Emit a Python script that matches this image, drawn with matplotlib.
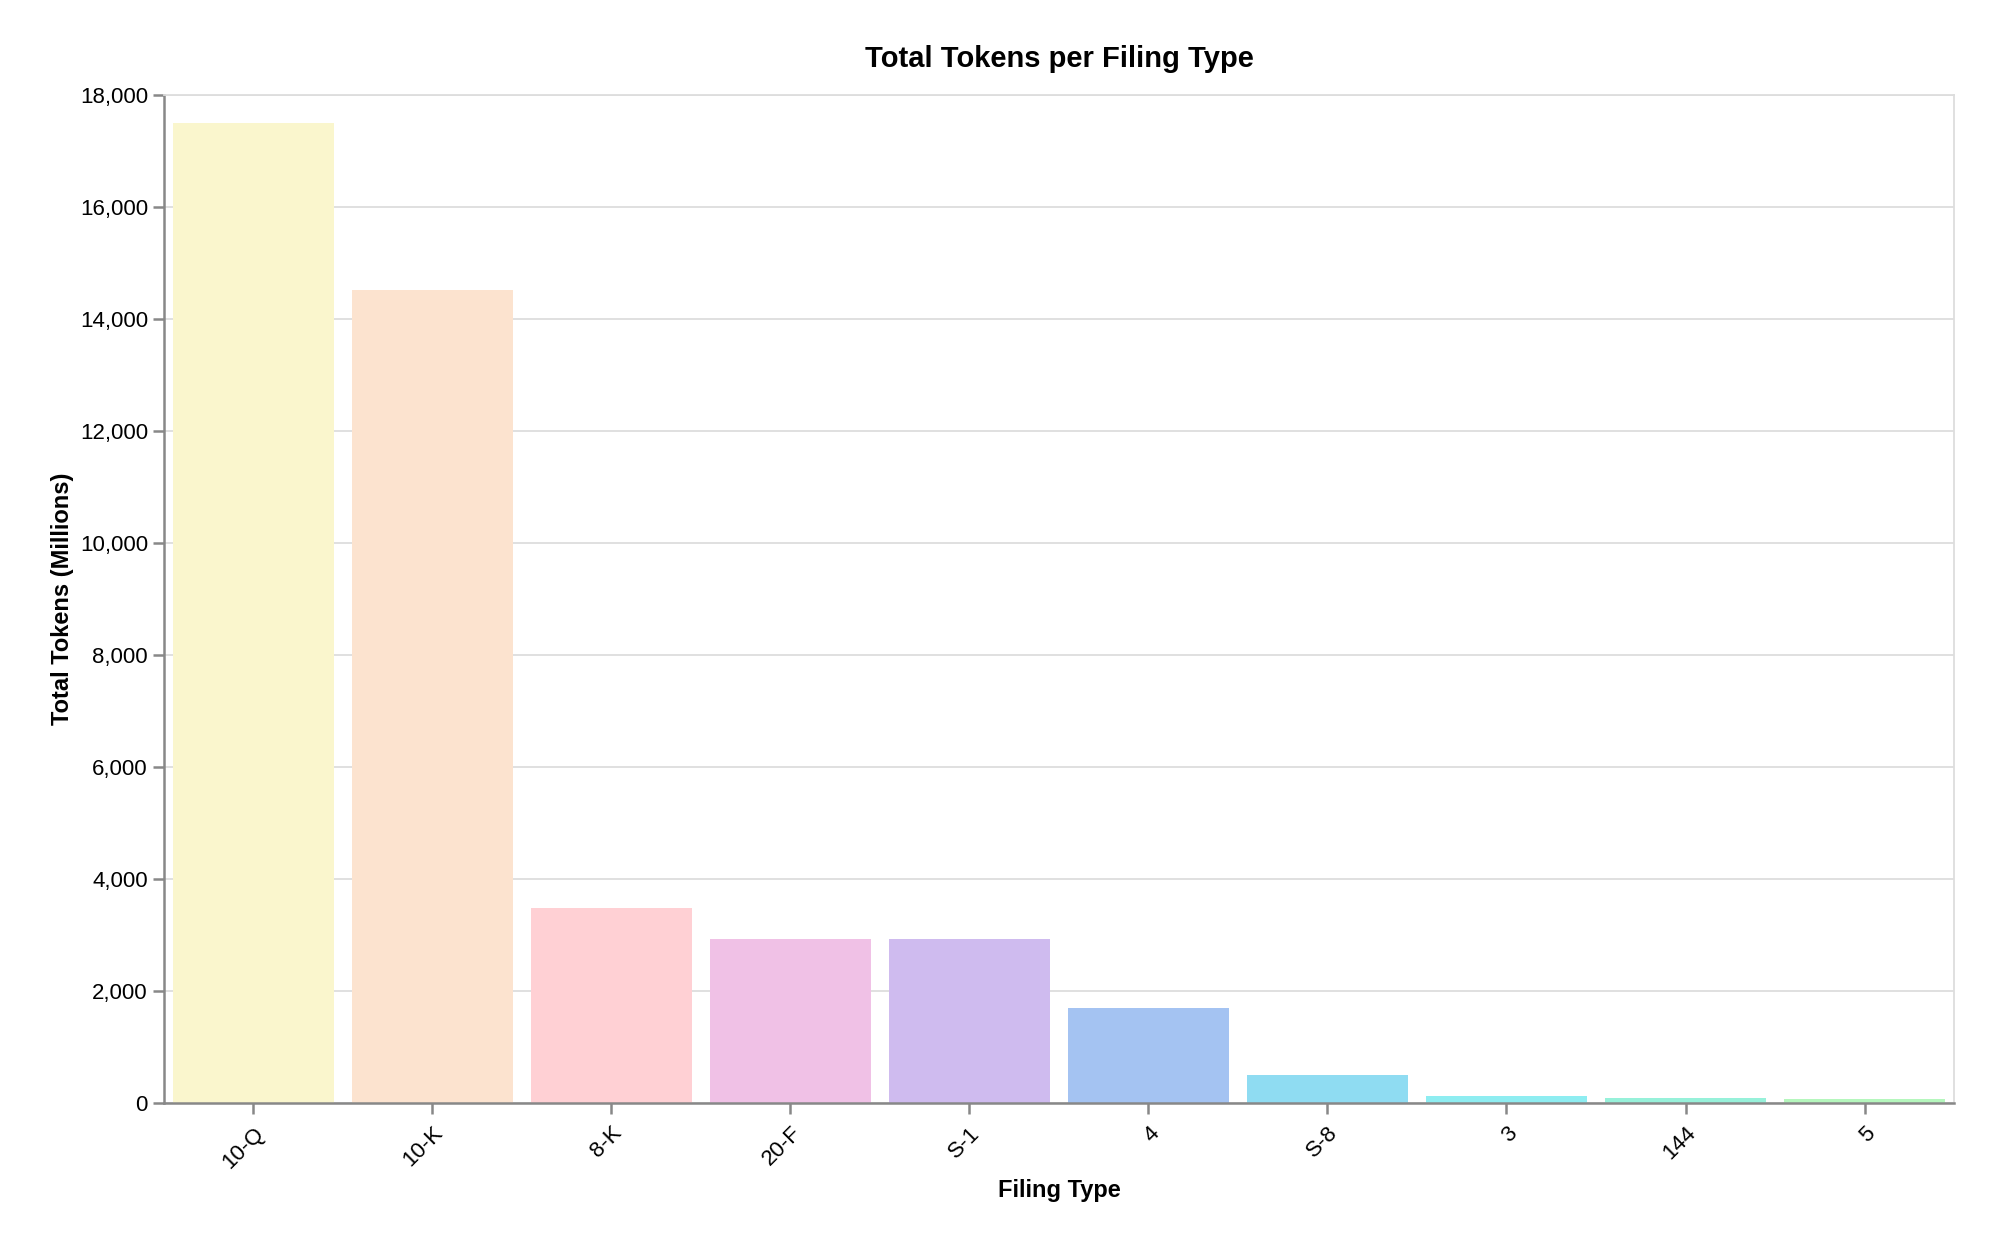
import matplotlib.pyplot as plt
from matplotlib.ticker import FuncFormatter, MultipleLocator

plt.rcParams['font.family'] = ['Liberation Sans', 'DejaVu Sans']

# data (millions of tokens)
filing_types = ['10-Q', '10-K', '8-K', '20-F', 'S-1', '4', 'S-8', '3', '144', '5']
total_tokens = [17500, 14520, 3480, 2940, 2935, 1705, 500, 125, 85, 70]
bar_colors = ['#faf6cd', '#fce3cf', '#ffd0d4', '#f0c1e6', '#cfbbef',
              '#a4c3f2', '#8fdcf2', '#8eedf1', '#97f1da', '#b5f7bd']

fig = plt.figure(figsize=(19.99, 12.48), dpi=100)
ax = fig.add_axes([0.082, 0.116, 0.8955, 0.808])

x = range(len(filing_types))
ax.bar(x, total_tokens, width=0.9, color=bar_colors, zorder=2)

ax.set_xlim(-0.5, len(filing_types) - 0.5)
ax.set_ylim(0, 18000)
ax.yaxis.set_major_locator(MultipleLocator(2000))
ax.yaxis.set_major_formatter(FuncFormatter(lambda v, p: f'{int(v):,}'))
ax.grid(axis='y', color='#dddddd', linewidth=1.3, zorder=0)

ax.set_xticks(list(x))
ax.set_xticklabels(filing_types, rotation=45, ha='right', rotation_mode='anchor')

for s in ['top', 'right']:
    ax.spines[s].set_color('#dddddd')
    ax.spines[s].set_linewidth(1.3)
for s in ['left', 'bottom']:
    ax.spines[s].set_color('#888888')
    ax.spines[s].set_linewidth(1.8)

ax.tick_params(axis='both', colors='#888888', length=8, width=1.8,
               labelsize=16, labelcolor='black')
ax.tick_params(axis='x', pad=6)

ax.set_title('Total Tokens per Filing Type', fontsize=21, fontweight='bold', pad=20)
ax.set_xlabel('Filing Type', fontsize=17, fontweight='bold', labelpad=5)
ax.set_ylabel('Total Tokens (Millions)', fontsize=17, fontweight='bold', labelpad=4)

fig.savefig('out.png', dpi=100)
